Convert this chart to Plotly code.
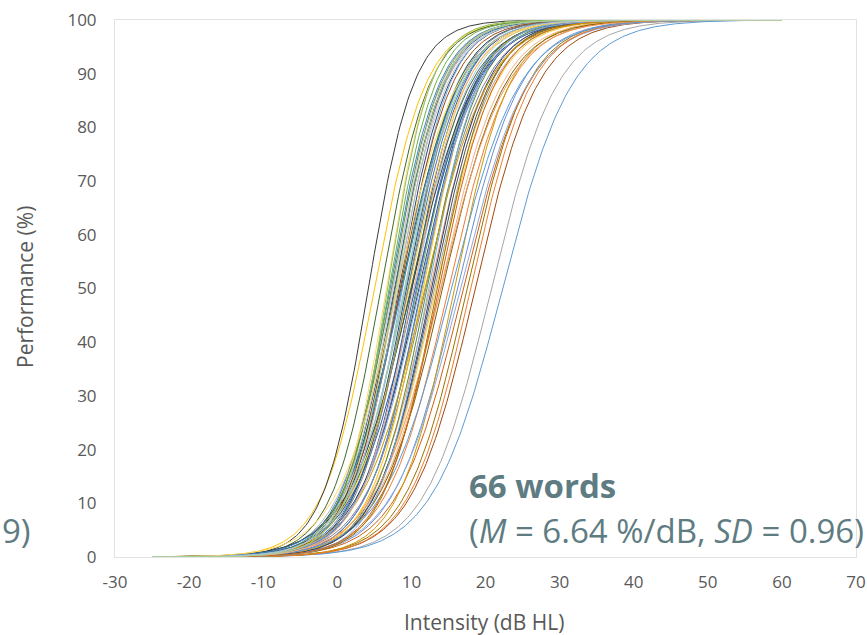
import numpy as np
import plotly.graph_objects as go

# ---- data ----
# 50 % point (dB HL) of each word's psychometric function, in series order
midpoints = [9.6, 15.0, 20.8, 5.0, 22.3, 10.8, 8.3, 18.6, 4.2, 17.5,
             11.3, 5.9, 16.2, 12.5, 7.4, 13.3, 8.8, 9.2, 10.1, 17.0,
             11.9, 15.8, 7.1, 12.1, 16.6, 13.9, 8.0, 6.6, 10.4, 9.0,
             11.0, 7.8, 12.9, 14.2, 9.3, 8.6, 10.7, 18.0, 13.1, 11.6,
             15.4, 7.0, 12.7, 8.5, 10.0, 13.5, 7.7, 9.9, 11.4, 14.0,
             8.2, 9.7, 12.3, 6.8, 10.5, 13.7, 9.5, 11.8, 8.7, 7.3,
             11.1, 10.3, 7.5, 8.1, 9.1, 7.9]
# slope at the 50 % point (%/dB) of each word
slopes = [6.8, 6.0, 5.6, 7.2, 5.3, 6.5, 7.4, 5.9, 8.2, 6.1,
          6.9, 7.6, 5.8, 6.4, 7.0, 6.2, 7.8, 6.6, 7.1, 5.7,
          6.3, 6.7, 7.5, 6.9, 5.5, 6.0, 7.3, 8.4, 6.8, 7.0,
          6.2, 7.7, 6.5, 5.9, 7.2, 6.4, 6.6, 6.1, 6.3, 7.0,
          5.4, 8.0, 6.7, 7.1, 5.8, 6.9, 7.4, 6.2, 6.8, 5.6,
          7.9, 6.5, 7.3, 8.6, 6.0, 6.6, 7.2, 5.9, 6.4, 7.5,
          6.3, 7.0, 7.6, 6.1, 6.7, 7.8]

x_start, x_end = -25, 60
x_ticks = list(range(-30, 71, 10))
x_ticklabels = [str(v) for v in x_ticks]
y_ticks = list(range(0, 101, 10))

palette = ["#4472C4", "#ED7D31", "#A5A5A5", "#FFC000", "#5B9BD5", "#70AD47",
           "#264478", "#9E480E", "#3A3A3A", "#997300", "#255E91", "#43682B",
           "#698ED0", "#F1975A", "#B7B7B7", "#FFCD33", "#7CAFDD", "#8CC168",
           "#335AA1", "#D26012", "#848484", "#CC9A00", "#3C86C9", "#5A8A39",
           "#8FAADC", "#F4B183", "#C9C9C9", "#FFD966", "#9DC3E6", "#A9D18E",
           "#203864", "#843C0C", "#525252", "#7F6000", "#1F4E79", "#385723"]

x = np.linspace(x_start, x_end, 341)

fig = go.Figure()
for i, (m, s) in enumerate(zip(midpoints, slopes)):
    k = 4.0 * s / 100.0
    y = 100.0 / (1.0 + np.exp(-k * (x - m)))
    fig.add_trace(go.Scatter(x=x, y=y, mode="lines",
                             line=dict(color=palette[i % len(palette)], width=1),
                             hoverinfo="skip", showlegend=False))

tick_font = dict(family="Open Sans", size=17, color="#595959")
title_font = dict(family="Open Sans", size=21, color="#595959")
note_color = "#5E7C82"

fig.update_layout(
    width=867, height=635,
    margin=dict(l=115, r=11, t=20, b=78, autoexpand=False),
    paper_bgcolor="white", plot_bgcolor="white",
    xaxis=dict(range=[-30, 70], tickvals=x_ticks, ticktext=x_ticklabels,
               showgrid=False, zeroline=False, automargin=False,
               showline=True, mirror=True, linecolor="#E3E3E3", linewidth=1,
               tickfont=tick_font, ticklabelstandoff=10, fixedrange=True),
    yaxis=dict(range=[0, 100], tickvals=y_ticks, showgrid=False, zeroline=False,
               automargin=False,
               showline=True, mirror=True, linecolor="#E3E3E3", linewidth=1,
               tickfont=tick_font, ticklabelstandoff=14, fixedrange=True),
    annotations=[
        dict(text="Intensity (dB HL)", xref="paper", yref="paper",
             x=(484 - 115) / 741, y=(557 - 622) / 537, showarrow=False,
             xanchor="center", yanchor="middle", font=title_font),
        dict(text="Performance (%)", xref="paper", yref="paper",
             x=(25 - 115) / 741, y=(557 - 287) / 537, showarrow=False,
             textangle=-90, xanchor="center", yanchor="middle", font=title_font),
        dict(text="<b>66 words</b>", xref="paper", yref="paper",
             x=(467 - 115) / 741, y=(557 - 485) / 537, showarrow=False,
             xanchor="left", yanchor="middle",
             font=dict(family="Open Sans", size=33, color=note_color)),
        dict(text="(<i>M</i> = 6.64 %/dB, <i>SD</i> = 0.96)", xref="paper", yref="paper",
             x=(467 - 115) / 741, y=(557 - 530) / 537, showarrow=False,
             xanchor="left", yanchor="middle",
             font=dict(family="Open Sans", size=33, color=note_color)),
        dict(text="9)", xref="paper", yref="paper",
             x=(33 - 115) / 741, y=(557 - 530) / 537, showarrow=False,
             xanchor="right", yanchor="middle",
             font=dict(family="Open Sans", size=33, color=note_color)),
    ],
)

fig.write_html("out.html")
